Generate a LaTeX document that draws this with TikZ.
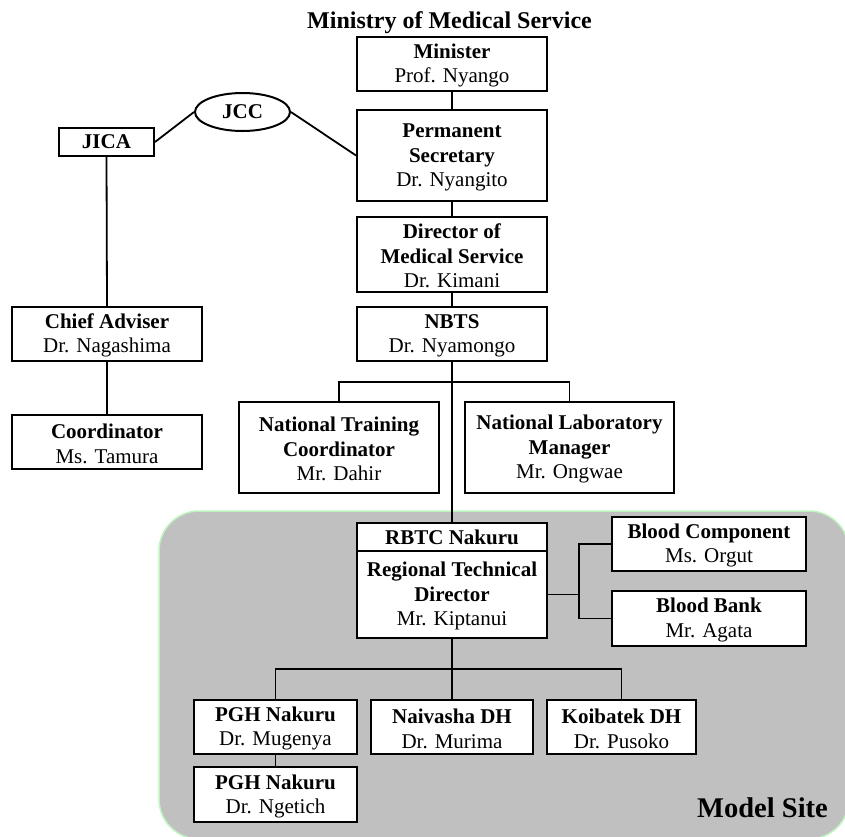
\documentclass[tikz,border=0pt]{standalone}
\usepackage{fontspec}
\setmainfont{Liberation Serif}
\usetikzlibrary{shapes.geometric}
\definecolor{regionfill}{RGB}{192,192,192}
\definecolor{regionborder}{RGB}{190,245,190}
\newcommand{\fstrut}{\rule{0pt}{18pt}}
\begin{document}
\begin{tikzpicture}[x=1pt,y=-1pt,
  txt/.style={font=\fontsize{21}{24.5}\selectfont, align=center, inner sep=0pt},
  box/.style={txt, draw, line width=2pt, fill=white, rectangle},
  link/.style={line width=1.8pt},
  region/.style={fill=regionfill, draw=regionborder, line width=1.5pt, rounded corners=40pt}]
\useasboundingbox (0,0) rectangle (845,836);
\fill[white] (0,0) rectangle (845,836);
% model site region
\draw[region] (159,511) rectangle (849,839);
\node[txt, font=\fontsize{28.5}{32}\selectfont\bfseries, anchor=base east] (model) at (828,817) {Model Site};
% title
\node[txt, font=\fontsize{24}{28}\selectfont\bfseries, anchor=base] (title) at (449.5,28) {Ministry of Medical Service};
% main column
\node[box, minimum width=190, minimum height=54] (min) at (452,64) {\fstrut\textbf{Minister}\\Prof. Nyango};
\node[box, minimum width=190, minimum height=91] (ps) at (452,155.5) {\fstrut\textbf{Permanent}\\\textbf{Secretary}\\Dr. Nyangito};
\node[box, minimum width=190, minimum height=75] (dms) at (452,254.5) {\fstrut\textbf{Director of}\\\textbf{Medical Service}\\Dr. Kimani};
\node[box, minimum width=190, minimum height=54] (nbts) at (452,334) {\fstrut\textbf{NBTS}\\Dr. Nyamongo};
\node[box, minimum width=200, minimum height=91] (ntc) at (339,447.5) {\fstrut\textbf{National Training}\\\textbf{Coordinator}\\Mr. Dahir};
\node[box, minimum width=209, minimum height=91] (nlm) at (569.5,447.5) {\fstrut\textbf{National Laboratory}\\\textbf{Manager}\\Mr. Ongwae};
\node[box, minimum width=190, minimum height=28] (rbtc) at (452,537) {\textbf{RBTC Nakuru}};
\node[box, minimum width=190, minimum height=87] (rtd) at (452,594.5) {\fstrut\textbf{Regional Technical}\\\textbf{Director}\\Mr. Kiptanui};
\node[box, minimum width=194, minimum height=54] (bc) at (709,544) {\fstrut\textbf{Blood Component}\\Ms. Orgut};
\node[box, minimum width=194, minimum height=55] (bb) at (709,618.5) {\fstrut\textbf{Blood Bank}\\Mr. Agata};
\node[box, minimum width=163, minimum height=54] (pgh1) at (275.5,727) {\fstrut\textbf{PGH Nakuru}\\Dr. Mugenya};
\node[box, minimum width=162, minimum height=54] (nai) at (452,727) {\fstrut\textbf{Naivasha DH}\\Dr. Murima};
\node[box, minimum width=149, minimum height=54] (koi) at (621.5,727) {\fstrut\textbf{Koibatek DH}\\Dr. Pusoko};
\node[box, minimum width=163, minimum height=55] (pgh2) at (275.5,794.5) {\fstrut\textbf{PGH Nakuru}\\Dr. Ngetich};
% left side
\node[box, minimum width=95, minimum height=28] (jica) at (106.5,142) {\textbf{JICA}};
\node[txt, draw, line width=2pt, fill=white, ellipse, minimum width=95, minimum height=38] (jcc) at (242.5,112) {\textbf{JCC}};
\node[box, minimum width=190, minimum height=54] (ca) at (107,334) {\fstrut\textbf{Chief Adviser}\\Dr. Nagashima};
\node[box, minimum width=190, minimum height=54] (coord) at (107,442) {\fstrut\textbf{Coordinator}\\Ms. Tamura};
% junction points
\coordinate (b1) at (452,382);
\coordinate (b2) at (579,594.5);
\coordinate (b3) at (452,669);
% connectors
\draw[link] (min.south) -- (ps.north);
\draw[link] (ps.south) -- (dms.north);
\draw[link] (dms.south) -- (nbts.north);
\draw[link] (nbts.south) -- (rbtc.north);
\draw[link] (ntc.north) |- (b1) -| (nlm.north);
\draw[link] (rtd.east) -- (b2);
\draw[link] (bc.west) -| (b2) |- (bb.west);
\draw[link] (rtd.south) -- (nai.north);
\draw[link] (pgh1.north) |- (b3) -| (koi.north);
\draw[link] (pgh1.south) -- (pgh2.north);
\draw[link] (jica.east) -- (jcc.west);
\draw[link] (jcc.east) -- (ps.west);
\draw[link] (jica.south) -- (ca.north);
\draw[link] (ca.south) -- (coord.north);
\end{tikzpicture}
\end{document}
